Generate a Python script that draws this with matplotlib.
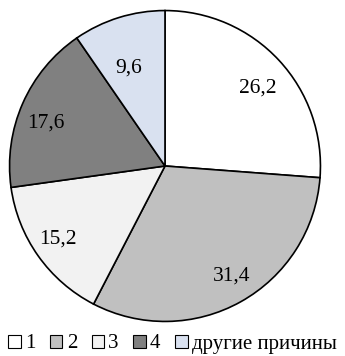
import numpy as np
import matplotlib
matplotlib.use("Agg")
import matplotlib.pyplot as plt
from matplotlib.patches import Patch

plt.rcParams['font.family'] = ['Liberation Serif', 'DejaVu Serif']

# shares of reasons, percent
categories = ['1', '2', '3', '4', 'другие причины']
values = [26.2, 31.4, 15.2, 17.6, 9.6]
colors = ['#ffffff', '#c0c0c0', '#f2f2f2', '#808080', '#d9e1f0']

# label placement (radius, angle shift in degrees), only layout
label_r = [0.78, 0.83, 0.83, 0.815, 0.67]
label_shift = [-3, 2, -1, 4, 3]

fig = plt.figure(figsize=(3.45, 3.56), dpi=100)
ax = fig.add_axes([8/345, 33/356, 314/345, 314/356])

wedges, texts = ax.pie(values, colors=colors, startangle=90, counterclock=False,
                       wedgeprops=dict(edgecolor='black', linewidth=1.2))

for w, r, s, v in zip(wedges, label_r, label_shift, values):
    a = np.deg2rad((w.theta1 + w.theta2) / 2 + s)
    ax.text(r * np.cos(a), r * np.sin(a), f'{v:.1f}'.replace('.', ','),
            ha='center', va='center', fontsize=15.5)

ax.set_xlim(-1.01, 1.01)
ax.set_ylim(-1.01, 1.01)
ax.set_aspect('equal')
ax.axis('off')

handles = [Patch(facecolor=c, edgecolor='black', linewidth=0.8) for c in colors]
fig.legend(handles, categories, loc='center', bbox_to_anchor=(0.5, 12/356), ncol=5,
           frameon=False, fontsize=15, handlelength=0.6, handleheight=0.6,
           handletextpad=0.2, columnspacing=0.7, borderaxespad=0)

fig.savefig('out.png', dpi=100)
